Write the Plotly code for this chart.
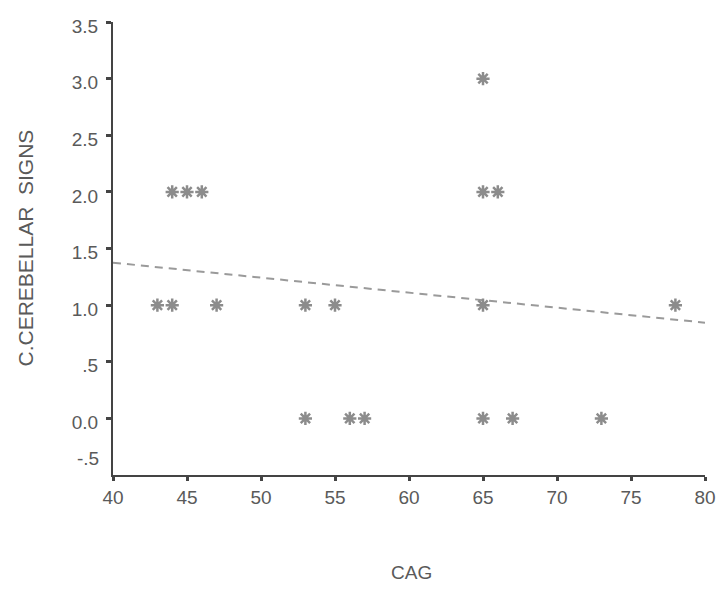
import plotly.graph_objects as go

# Scatter data: CAG repeat length vs cerebellar signs score
cag = [43, 44, 47, 53, 55, 65, 78,
       44, 45, 46, 65, 66,
       65,
       53, 56, 57, 65, 67, 73]
cerebellar = [1, 1, 1, 1, 1, 1, 1,
              2, 2, 2, 2, 2,
              3,
              0, 0, 0, 0, 0, 0]

# Fit line (endpoints)
fit_x = [40, 80]
fit_y = [1.375, 0.845]

x_ticks = [40, 45, 50, 55, 60, 65, 70, 75, 80]
y_ticks = [0.0, 0.5, 1.0, 1.5, 2.0, 2.5, 3.0, 3.5]
y_tick_text = ["0.0", ".5", "1.0", "1.5", "2.0", "2.5", "3.0", "3.5"]

FONT = "Liberation Sans Narrow, Liberation Sans, Arial, sans-serif"
TXT = "#5a5a5a"
AX = "#444444"

fig = go.Figure()
fig.add_trace(go.Scatter(
    x=fit_x, y=fit_y, mode="lines",
    line=dict(color="#9a9a9a", width=2, dash="8px,6px"),
    hoverinfo="skip", showlegend=False))
fig.add_trace(go.Scatter(
    x=cag, y=cerebellar, mode="markers",
    marker=dict(symbol="asterisk-open", size=11, color="#8c8c8c",
                line=dict(color="#8c8c8c", width=2.5)),
    showlegend=False))

fig.update_layout(
    width=718, height=590,
    margin=dict(l=113, r=13, t=22, b=115, autoexpand=False),
    paper_bgcolor="white", plot_bgcolor="white",
    font=dict(family=FONT, color=TXT, size=18),
    showlegend=False,
)
fig.update_xaxes(
    range=[40, 80], tickvals=x_ticks, ticktext=[str(v) for v in x_ticks],
    showgrid=False, zeroline=False, showline=True, linecolor=AX, linewidth=2,
    ticks="outside", ticklen=4, tickwidth=3, tickcolor=AX,
    tickfont=dict(family=FONT, size=19, color=TXT),
)
fig.update_yaxes(
    range=[-0.5, 3.5], tickvals=y_ticks, ticktext=y_tick_text,
    showgrid=False, zeroline=False, showline=True, linecolor=AX, linewidth=2,
    ticks="outside", ticklen=5, tickwidth=3, tickcolor=AX,
    tickfont=dict(family=FONT, size=19, color=TXT),
    ticklabelstandoff=4, ticklabelshift=4,
)
fig.add_annotation(text="-.5", xref="paper", yref="y", x=0, y=-0.5,
                   xanchor="right", yanchor="middle", xshift=-12, yshift=17,
                   showarrow=False, font=dict(family=FONT, size=19, color=TXT))
fig.add_annotation(text="C.CEREBELLAR  SIGNS", xref="paper", yref="paper",
                   x=-0.1486, y=0.5, textangle=-90, showarrow=False,
                   xanchor="center", yanchor="middle",
                   font=dict(family=FONT, size=21, color=TXT))
fig.add_annotation(text="CAG", xref="paper", yref="paper",
                   x=0.505, y=-0.216, showarrow=False,
                   xanchor="center", yanchor="middle",
                   font=dict(family=FONT, size=19, color=TXT))

fig.write_html("out.html", config={"displayModeBar": False},
               post_script="document.body.style.margin='0';")
